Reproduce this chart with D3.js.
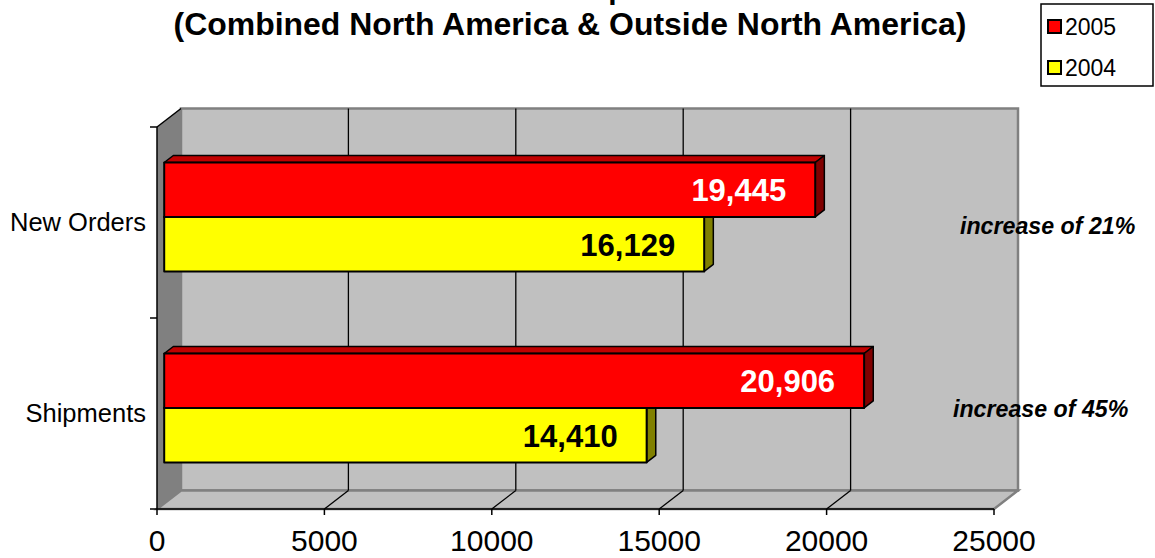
<!DOCTYPE html>
<html>
<head>
<meta charset="utf-8">
<script src="https://cdn.jsdelivr.net/npm/d3@7"></script>
<style>
  body { margin: 0; background: #fff; }
  svg { display: block; font-family: "Liberation Sans", Arial, sans-serif; }
</style>
</head>
<body>
<div id="chart"></div>
<script>
// Data
const categories = ['New Orders', 'Shipments'];
const seriesNames = ['2005', '2004'];
const values2005 = [19445, 20906];
const values2004 = [16129, 14410];
const xTicks = [0, 5000, 10000, 15000, 20000, 25000];
const titleLines = ['Orders & Shipments', '(Combined North America & Outside North America)'];

const width = 1155, height = 558;

// depth offset of the 3D box
const DX = 24, DY = -18.5;
const barFront = 0.3, barBack = 0.68;

const colors = {
  '2005': { front: '#ff0000', top: '#c00000', side: '#800000', label: '#ffffff' },
  '2004': { front: '#ffff00', top: '#c0c000', side: '#808000', label: '#000000' }
};

const svg = d3.select('#chart').append('svg')
  .attr('width', width)
  .attr('height', height);

const x = d3.scaleLinear().domain([0, 25000]).range([157, 994]);
const y = d3.scaleBand().domain(categories).range([127, 509])
  .paddingInner(0.43).paddingOuter(0.215);
const ySub = d3.scaleBand().domain(seriesNames).range([0, y.bandwidth()]);

// project value / front-plane y / depth to screen
function p(v, yy, d) {
  return [x(v) + d * DX, yy + d * DY];
}
function poly(pts) {
  return pts.map(q => q.join(',')).join(' ');
}

const yTop = 127, yBot = 509, vMax = 25000;

// back wall
svg.append('polygon')
  .attr('points', poly([p(0, yTop, 1), p(vMax, yTop, 1), p(vMax, yBot, 1), p(0, yBot, 1)]))
  .style('fill', '#c0c0c0')
  .style('stroke', '#808080')
  .style('stroke-width', 2.5);

// left wall
svg.append('polygon')
  .attr('points', poly([p(0, yTop, 0), p(0, yTop, 1), p(0, yBot, 1), p(0, yBot, 0)]))
  .style('fill', '#808080');

// floor
svg.append('polygon')
  .attr('points', poly([p(0, yBot, 0), p(vMax, yBot, 0), p(vMax, yBot, 1), p(0, yBot, 1)]))
  .style('fill', '#c0c0c0')
  .style('stroke', '#808080')
  .style('stroke-width', 2.5);

// gridlines on the wall and floor
xTicks.filter(t => t > 0 && t < vMax).forEach(t => {
  const a = p(t, yTop, 1), b = p(t, yBot, 1), c = p(t, yBot, 0);
  svg.append('line')
    .attr('x1', a[0]).attr('y1', a[1]).attr('x2', b[0]).attr('y2', b[1])
    .style('stroke', '#000').style('stroke-width', 1.3);
  svg.append('line')
    .attr('x1', b[0]).attr('y1', b[1]).attr('x2', c[0]).attr('y2', c[1])
    .style('stroke', '#000').style('stroke-width', 1.3);
});

// axes
const axisG = svg.append('g').style('stroke', '#000').style('stroke-width', 1.5);
axisG.append('line')
  .attr('x1', x(0)).attr('y1', yBot).attr('x2', x(vMax)).attr('y2', yBot);
axisG.append('line')
  .attr('x1', x(0)).attr('y1', yTop).attr('x2', x(0)).attr('y2', yBot);
axisG.append('line')
  .attr('x1', p(0, yTop, 0)[0]).attr('y1', p(0, yTop, 0)[1])
  .attr('x2', p(0, yTop, 1)[0]).attr('y2', p(0, yTop, 1)[1]);
xTicks.forEach(t => {
  axisG.append('line')
    .attr('x1', x(t)).attr('y1', yBot).attr('x2', x(t)).attr('y2', yBot + 6);
});
[yTop, (yTop + yBot) / 2, yBot].forEach(yy => {
  axisG.append('line')
    .attr('x1', x(0) - 7).attr('y1', yy).attr('x2', x(0)).attr('y2', yy);
});

// tick labels
svg.selectAll('.tick-label')
  .data(xTicks)
  .enter()
  .append('text')
  .attr('class', 'tick-label')
  .attr('x', d => x(d))
  .attr('y', 551)
  .style('text-anchor', 'middle')
  .style('font-size', '30px')
  .text(d => d);

// category labels
svg.selectAll('.cat-label')
  .data(categories)
  .enter()
  .append('text')
  .attr('class', 'cat-label')
  .attr('x', 146)
  .attr('y', d => y(d) + y.bandwidth() / 2 + 8)
  .style('text-anchor', 'end')
  .style('font-size', '25.5px')
  .text(d => d);

// bars: bottom series first so the upper bar covers its top face
const bars = [];
categories.forEach((c, i) => {
  bars.push({ cat: c, series: '2004', value: values2004[i] });
  bars.push({ cat: c, series: '2005', value: values2005[i] });
});

bars.forEach(b => {
  const col = colors[b.series];
  const y0 = y(b.cat) + ySub(b.series);
  const y1 = y0 + ySub.bandwidth();
  const g = svg.append('g').style('stroke', '#000').style('stroke-linejoin', 'round');
  g.append('polygon')
    .attr('points', poly([p(0, y0, barFront), p(b.value, y0, barFront), p(b.value, y0, barBack), p(0, y0, barBack)]))
    .style('fill', col.top).style('stroke-width', 1.5);
  g.append('polygon')
    .attr('points', poly([p(b.value, y0, barFront), p(b.value, y0, barBack), p(b.value, y1, barBack), p(b.value, y1, barFront)]))
    .style('fill', col.side).style('stroke-width', 1.5);
  const f0 = p(0, y0, barFront), f1 = p(b.value, y1, barFront);
  g.append('rect')
    .attr('x', f0[0]).attr('y', f0[1])
    .attr('width', f1[0] - f0[0]).attr('height', f1[1] - f0[1])
    .style('fill', col.front).style('stroke-width', 2);
  svg.append('text')
    .attr('x', f1[0] - 29)
    .attr('y', (f0[1] + f1[1]) / 2 + 11.5)
    .style('text-anchor', 'end')
    .style('font-size', '31px')
    .style('font-weight', 'bold')
    .style('fill', col.label)
    .text(d3.format(',')(b.value));
});

// increase notes
const notes = categories.map((c, i) => ({
  cat: c,
  text: `increase of ${Math.round((values2005[i] / values2004[i] - 1) * 100)}%`
}));
const noteX = [960, 953];
const noteDy = [11, 3.5];
notes.forEach((n, i) => {
  svg.append('text')
    .attr('x', noteX[i])
    .attr('y', y(n.cat) + y.bandwidth() / 2 + noteDy[i])
    .style('font-size', '23.2px')
    .style('font-weight', 'bold')
    .style('font-style', 'italic')
    .text(n.text);
});

// title (first line sits above the top edge, as in the picture)
svg.append('text')
  .attr('x', 570).attr('y', -1)
  .style('text-anchor', 'middle')
  .style('font-size', '30px')
  .style('font-weight', 'bold')
  .text(titleLines[0]);
svg.append('text')
  .attr('x', 570).attr('y', 35)
  .style('text-anchor', 'middle')
  .style('font-size', '31px')
  .style('font-weight', 'bold')
  .attr('textLength', 793)
  .attr('lengthAdjust', 'spacingAndGlyphs')
  .text(titleLines[1]);

// legend
const legend = svg.append('g');
legend.append('rect')
  .attr('x', 1041).attr('y', 4)
  .attr('width', 112).attr('height', 82)
  .style('fill', '#fff')
  .style('stroke', '#000')
  .style('stroke-width', 1.5);
const legendItems = legend.selectAll('.legend-item')
  .data(seriesNames)
  .enter()
  .append('g')
  .attr('class', 'legend-item')
  .attr('transform', (d, i) => `translate(1048, ${20 + i * 41})`);
legendItems.append('rect')
  .attr('width', 13).attr('height', 13)
  .style('fill', d => colors[d].front)
  .style('stroke', '#000')
  .style('stroke-width', 2);
legendItems.append('text')
  .attr('x', 17)
  .attr('y', 15)
  .style('font-size', '23px')
  .text(d => d);
</script>
</body>
</html>
